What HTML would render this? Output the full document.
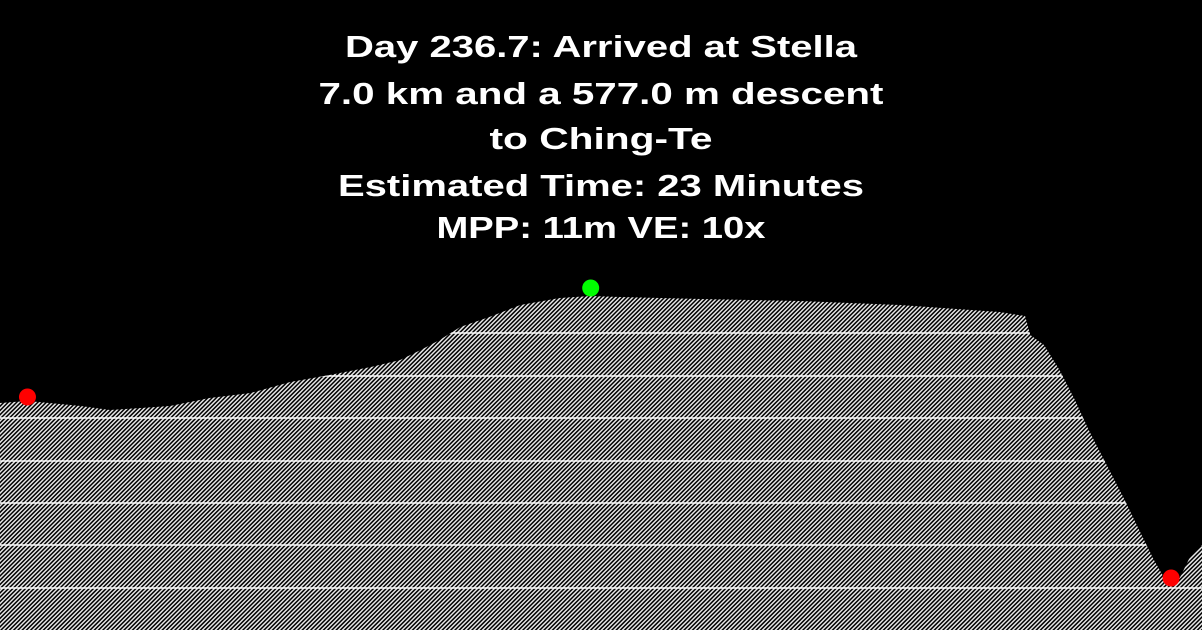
<!DOCTYPE html>
<html><head><meta charset="utf-8"><style>
html,body{margin:0;padding:0;background:#000;width:1202px;height:630px;overflow:hidden}
svg{display:block}
text{font-family:"Liberation Sans",sans-serif;font-weight:bold;fill:#fff;font-size:31px}
</style></head><body>
<svg id="chart" width="1202" height="630" viewBox="0 0 1202 630">
<defs>
<pattern id="hatch" width="3" height="3" patternUnits="userSpaceOnUse" patternTransform="rotate(45)">
<rect width="1.5" height="3" fill="#e6e6e6"/>
</pattern>
</defs>
<g text-anchor="middle">
<text x="601" y="57" textLength="512" lengthAdjust="spacingAndGlyphs">Day 236.7: Arrived at Stella</text>
<text x="601" y="104" textLength="565" lengthAdjust="spacingAndGlyphs">7.0 km and a 577.0 m descent</text>
<text x="601" y="149" textLength="223" lengthAdjust="spacingAndGlyphs">to Ching-Te</text>
<text x="601" y="196" textLength="526" lengthAdjust="spacingAndGlyphs">Estimated Time: 23 Minutes</text>
<text x="601" y="238" textLength="329" lengthAdjust="spacingAndGlyphs">MPP: 11m VE: 10x</text>
</g>
<g id="plot"></g>
</svg>
<script>
const distKm=[0,0.16,0.35,0.47,0.64,0.82,0.99,1.22,1.46,1.69,1.92,2.16,2.33,2.45,2.56,2.68,2.85,3.03,3.26,3.44,3.61,4.08,4.66,5.24,5.82,5.97,6.0,6.08,6.17,6.26,6.34,6.43,6.55,6.62,6.72,6.78,6.87,6.93,7.0];
const elevM=[470,472,469,467,463,465,467,475,480,491,498,506,513,523,533,546,556,568,575,577,576,574,572,568,561,557,538,528,503,473,443,413,373,348,313,295,295,316,328];
const gridY=[333,376,418,461,503,545,588];
const markers=[{d:0.16,e:476,c:"#ff0000",n:"start-marker"},{d:3.44,e:585,c:"#00ff00",n:"summit-marker"},{d:6.82,e:295,c:"#ff0000",n:"end-marker"}];
const W=1202,H=630;
const x=d=>d/7.0*W;
const y=e=>873-e;
const g=document.getElementById('plot');
const NS="http://www.w3.org/2000/svg";
let pts=distKm.map((d,i)=>x(d).toFixed(1)+","+y(elevM[i]).toFixed(1));
const area=document.createElementNS(NS,'polygon');
area.setAttribute('points',"0,"+H+" "+pts.join(" ")+" "+W+","+H);
area.setAttribute('fill','url(#hatch)');


g.appendChild(area);
const clip=document.createElementNS(NS,'clipPath');
clip.setAttribute('id','terrainClip');
const cp=area.cloneNode();cp.removeAttribute('fill');clip.appendChild(cp);
document.querySelector('defs').appendChild(clip);
gridY.forEach(gy=>{
 const l=document.createElementNS(NS,'line');
 l.setAttribute('x1',0);l.setAttribute('x2',W);l.setAttribute('y1',gy);l.setAttribute('y2',gy);
 l.setAttribute('stroke','#fff');l.setAttribute('stroke-width','1.5');
 l.setAttribute('clip-path','url(#terrainClip)');
 
 
 g.appendChild(l);
});
markers.forEach(m=>{
 const c=document.createElementNS(NS,'circle');
 c.setAttribute('cx',x(m.d));c.setAttribute('cy',y(m.e));c.setAttribute('r',8.5);c.setAttribute('fill',m.c);
 
 
 g.appendChild(c);
});
</script>
</body></html>
